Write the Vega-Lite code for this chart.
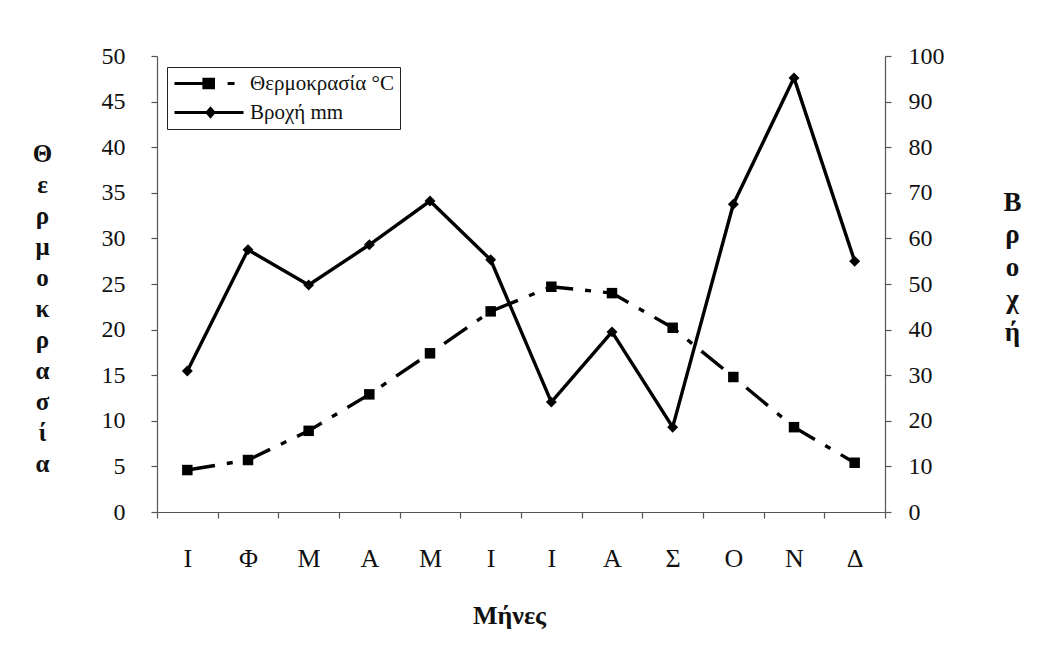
{
  "$schema": "https://vega.github.io/schema/vega-lite/v6.json",
  "width": 728,
  "height": 456,
  "autosize": {"type": "none"},
  "padding": {"left": 157, "top": 56, "right": 152, "bottom": 151},
  "background": "white",
  "config": {
    "view": {"stroke": null},
    "font": "Liberation Serif",
    "axis": {"grid": false, "domainColor": "#555", "tickColor": "#555", "labelColor": "#111", "titleColor": "#111", "labelFont": "Liberation Serif", "titleFont": "Liberation Serif", "labelFontSize": 24, "titleFontSize": 25, "labelFontWeight": "normal", "tickSize": 6, "domainWidth": 1.2, "tickWidth": 1.2},
    "legend": {"labelFont": "Liberation Serif"}
  },
  "data": {
    "values": [
      {"i": 1, "m": "Ι", "t": 4.6, "r": 30.9},
      {"i": 2, "m": "Φ", "t": 5.7, "r": 57.5},
      {"i": 3, "m": "Μ", "t": 8.9, "r": 49.8},
      {"i": 4, "m": "Α", "t": 12.9, "r": 58.6},
      {"i": 5, "m": "Μ ", "t": 17.4, "r": 68.2},
      {"i": 6, "m": "Ι ", "t": 22.0, "r": 55.3},
      {"i": 7, "m": "Ι  ", "t": 24.7, "r": 24.1},
      {"i": 8, "m": "Α ", "t": 24.0, "r": 39.5},
      {"i": 9, "m": "Σ", "t": 20.2, "r": 18.6},
      {"i": 10, "m": "Ο", "t": 14.8, "r": 67.5},
      {"i": 11, "m": "Ν", "t": 9.3, "r": 95.2},
      {"i": 12, "m": "Δ", "t": 5.4, "r": 55.0}
    ]
  },
  "encoding": {
    "x": {
      "field": "m", "type": "nominal", "sort": {"field": "i"}, "bandPosition": 0.5,
      "scale": {"type": "band", "paddingInner": 0, "paddingOuter": 0},
      "axis": {"title": "Μήνες", "labelAngle": 0, "tickBand": "extent", "labelPadding": 27, "labelFontSize": 26, "labelFont": "Liberation Serif", "titleFont": "Liberation Serif", "titleFontSize": 26, "titleFontWeight": "bold", "titleY": 103, "titleBaseline": "middle", "titleX": 352}
    }
  },
  "layer": [
    {
      "layer": [
        {
          "mark": {"type": "line", "color": "black", "strokeWidth": 3.4, "strokeDash": [28, 12, 6, 12]},
          "encoding": {
            "y": {"field": "t", "type": "quantitative", "scale": {"domain": [0, 50]},
              "axis": {"title": ["Θ", "ε", "ρ", "μ", "ο", "κ", "ρ", "α", "σ", "ί", "α"], "values": [0,5,10,15,20,25,30,35,40,45,50], "labelPadding": 26, "labelFont": "Liberation Serif", "titleFont": "Liberation Serif", "titleFontSize": 25, "titleAngle": 0, "titleFontWeight": "bold", "titleLineHeight": 31, "titleX": -115, "titleY": 85, "titleAlign": "center", "titleBaseline": "top"}}
          }
        },
        {
          "mark": {"type": "point", "shape": "square", "filled": true, "size": 110, "opacity": 1, "color": "black"},
          "encoding": {
            "y": {"field": "t", "type": "quantitative"}
          }
        },
        {
          "transform": [{"filter": "false"}],
          "mark": {"type": "point", "filled": true, "opacity": 1, "color": "black"},
          "encoding": {
            "y": {"field": "t", "type": "quantitative"},
            "shape": {"field": "s", "type": "nominal",
              "scale": {"domain": ["Θερμοκρασία °C", "Βροχή mm"], "range": [
                "M-1,-0.17H2.1V0.17H-1Z M2.1,-0.65H3.5V0.65H2.1Z M4.9,-0.17H5.67V0.17H4.9Z",
                "M-1,-0.17H6.67V0.17H-1Z M3,-0.7L3.6,0L3,0.7L2.4,0Z"]},
              "legend": {
                "title": null, "orient": "none", "legendX": 10, "legendY": 11,
                "direction": "vertical",
                "strokeColor": "#222", "fillColor": "white", "padding": 6,
                "symbolSize": 324, "symbolFillColor": "black", "symbolStrokeColor": "black", "symbolStrokeWidth": 0, "symbolOpacity": 1,
                "labelFont": "Liberation Serif", "labelFontSize": 21, "labelOffset": 56, "rowPadding": 7, "labelColor": "#111"
              }
            }
          }
        }
      ]
    },
    {
      "layer": [
        {
          "mark": {"type": "line", "color": "black", "strokeWidth": 3.4},
          "encoding": {
            "y": {"field": "r", "type": "quantitative", "scale": {"domain": [0, 100]},
              "axis": {"orient": "right", "title": ["Β", "ρ", "ο", "χ", "ή"], "values": [0,10,20,30,40,50,60,70,80,90,100], "labelPadding": 17, "labelFont": "Liberation Serif", "titleFont": "Liberation Serif", "titleFontSize": 27, "titleAngle": 0, "titleFontWeight": "bold", "titleLineHeight": 32.5, "titleX": 127, "titleY": 133, "titleAlign": "center", "titleBaseline": "top"}}
          }
        },
        {
          "mark": {"type": "point", "shape": "diamond", "filled": true, "size": 120, "opacity": 1, "color": "black"},
          "encoding": {
            "y": {"field": "r", "type": "quantitative"}
          }
        }
      ]
    }
  ],
  "resolve": {"scale": {"y": "independent"}}
}
